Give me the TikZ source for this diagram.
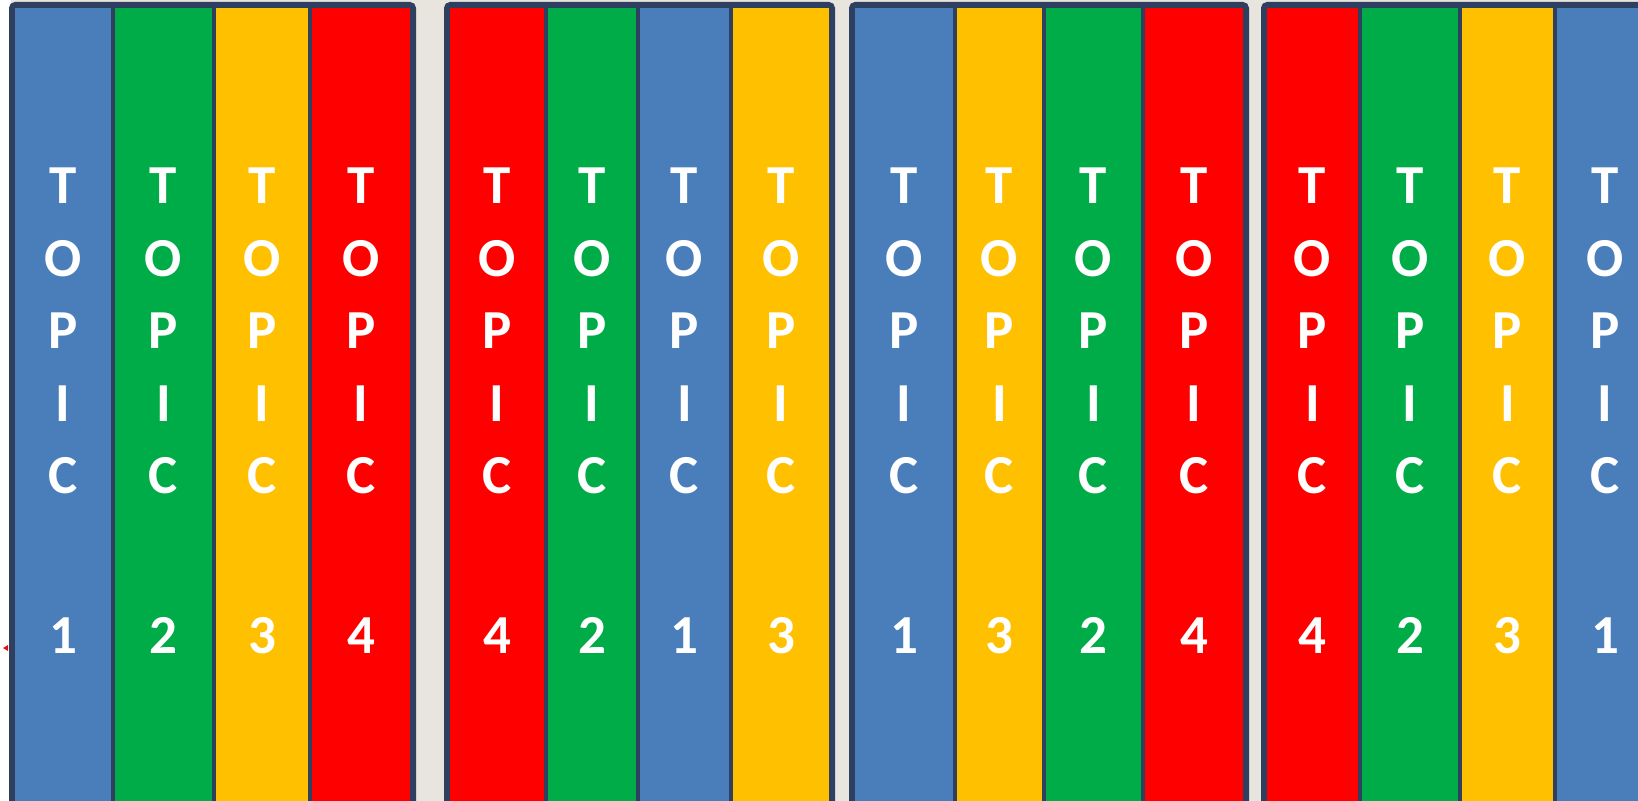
\documentclass[tikz,border=0pt]{standalone}
\usepackage{fontspec}
\setmainfont{Carlito}
\usepackage{xcolor}
\usetikzlibrary{positioning}
\definecolor{paper}{HTML}{E7E5DE}
\definecolor{edge}{HTML}{2F3F5F}
\definecolor{topicblue}{HTML}{4A7EBB}
\definecolor{topicgreen}{HTML}{00AC47}
\definecolor{topicyellow}{HTML}{FFC000}
\definecolor{topicred}{HTML}{FF0000}
\definecolor{marker}{HTML}{E01010}

\tikzset{
  colbox/.style={draw=edge, line width=1.8pt, minimum height=405pt, inner sep=0pt, align=center,
    text=white, font=\fontsize{27.5}{36.25}\selectfont\bfseries},
  groupedge/.style={draw=edge, line width=2.2pt, rounded corners=2pt}
}

\begin{document}
\begin{tikzpicture}[x=0.5pt, y=-0.5pt]

\useasboundingbox (0,0) rectangle (1638,801);
\fill[paper] (0,0) rectangle (1638,801);
\fill[white] (0,0) rectangle (11,801);

% Group 1 - 1 2 3 4
\node[colbox, fill=topicblue, minimum width=50pt] (g1c1) at (63,411) {T\\O\\P\\I\\C\\[43.75pt]1};
\node[colbox, fill=topicgreen, minimum width=50.5pt] (g1c2) at (163.5,411) {T\\O\\P\\I\\C\\[43.75pt]2};
\node[colbox, fill=topicyellow, minimum width=48pt] (g1c3) at (262,411) {T\\O\\P\\I\\C\\[43.75pt]3};
\node[colbox, fill=topicred, minimum width=51pt] (g1c4) at (361,411) {T\\O\\P\\I\\C\\[43.75pt]4};
\draw[groupedge] (g1c1.north west) rectangle (g1c4.south east);

% Group 2 - 4 2 1 3
\node[colbox, fill=topicred, minimum width=49pt] (g2c1) at (497,411) {T\\O\\P\\I\\C\\[43.75pt]4};
\node[colbox, fill=topicgreen, minimum width=46pt] (g2c2) at (592,411) {T\\O\\P\\I\\C\\[43.75pt]2};
\node[colbox, fill=topicblue, minimum width=46.5pt] (g2c3) at (684.5,411) {T\\O\\P\\I\\C\\[43.75pt]1};
\node[colbox, fill=topicyellow, minimum width=50pt] (g2c4) at (781,411) {T\\O\\P\\I\\C\\[43.75pt]3};
\draw[groupedge] (g2c1.north west) rectangle (g2c4.south east);

% Group 3 - 1 3 2 4
\node[colbox, fill=topicblue, minimum width=51pt] (g3c1) at (904,411) {T\\O\\P\\I\\C\\[43.75pt]1};
\node[colbox, fill=topicyellow, minimum width=44.5pt] (g3c2) at (999.5,411) {T\\O\\P\\I\\C\\[43.75pt]3};
\node[colbox, fill=topicgreen, minimum width=49.5pt] (g3c3) at (1093.5,411) {T\\O\\P\\I\\C\\[43.75pt]2};
\node[colbox, fill=topicred, minimum width=51pt] (g3c4) at (1194,411) {T\\O\\P\\I\\C\\[43.75pt]4};
\draw[groupedge] (g3c1.north west) rectangle (g3c4.south east);

% Group 4 - 4 2 3 1 (runs off the right edge)
\node[colbox, fill=topicred, minimum width=47.5pt] (g4c1) at (1312.5,411) {T\\O\\P\\I\\C\\[43.75pt]4};
\node[colbox, fill=topicgreen, minimum width=50pt] (g4c2) at (1410,411) {T\\O\\P\\I\\C\\[43.75pt]2};
\node[colbox, fill=topicyellow, minimum width=47.5pt] (g4c3) at (1507.5,411) {T\\O\\P\\I\\C\\[43.75pt]3};
\node[colbox, fill=topicblue, minimum width=50pt] (g4c4) at (1605,411) {T\\O\\P\\I\\C\\[43.75pt]1};
\draw[groupedge] (g4c1.north west) rectangle (g4c4.south east);

% small marker at the left edge
\fill[marker] (3,648) -- (8,645) -- (8,651) -- cycle;

\end{tikzpicture}
\end{document}
